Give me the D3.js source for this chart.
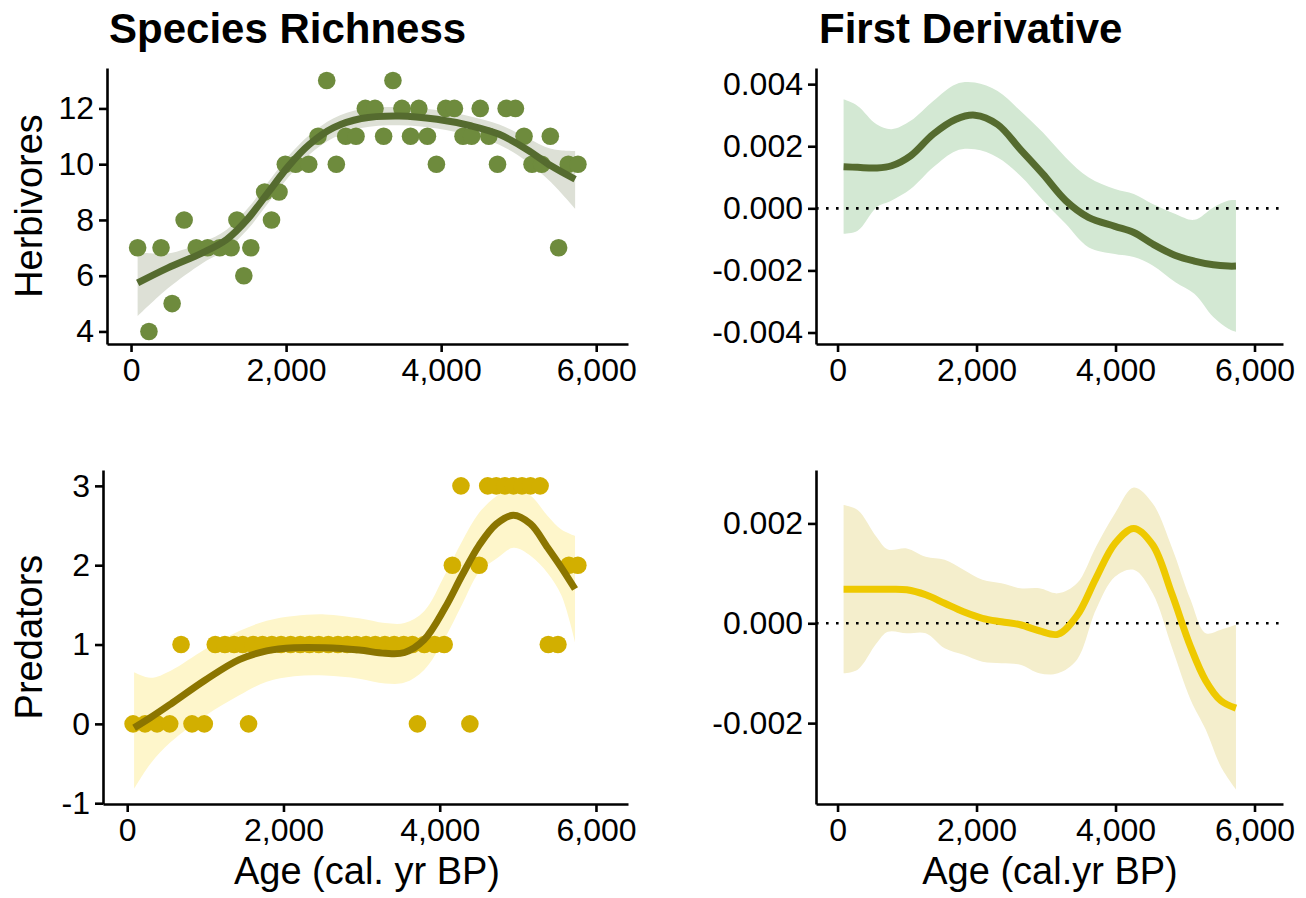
<!DOCTYPE html>
<html>
<head>
<meta charset="utf-8">
<script src="https://cdn.jsdelivr.net/npm/d3@7"></script>
<style>
  html, body { margin: 0; padding: 0; background: #fff; }
  svg { display: block; font-family: "Liberation Sans", Arial, Helvetica, sans-serif; }
</style>
</head>
<body>
<svg id="chart" width="1306" height="898"></svg>
<script>
// ---- Data -------------------------------------------------------------
// Herbivore species richness per sample (age in cal. yr BP)
const herbAge = [85,231,387,530,685,841,988,1144,1291,1366,1455,1545,1723,1812,1909,1990,2123,2292,2412,2524,2648,2769,2902,3022,3147,3258,3378,3494,3605,3712,3823,3939,4059,4171,4282,4393,4504,4615,4727,4838,4958,5069,5172,5297,5408,5515,5640,5764];
const herbRichness = [7,4,7,5,8,7,7,7,7,8,6,7,9,8,9,10,10,10,11,13,10,11,11,12,12,11,13,12,11,12,11,10,12,12,11,11,12,11,10,12,12,11,10,10,11,7,10,10];

// GAM fit for herbivores with confidence band
const herbFitAge = [85,476,921,1233,1500,1767,2034,2301,2613,2969,3458,3947,4393,4749,5105,5417,5728];
const herbFit    = [5.74,6.28,6.82,7.30,8.02,8.98,9.94,10.71,11.31,11.64,11.73,11.61,11.37,11.07,10.53,9.94,9.46];
const herbFitLo  = [4.55,5.55,6.45,6.95,7.65,8.60,9.55,10.35,10.95,11.30,11.40,11.28,11.02,10.70,10.10,9.35,8.40];
const herbFitHi  = [6.85,6.80,7.20,7.65,8.40,9.35,10.30,11.05,11.65,11.98,12.05,11.94,11.70,11.42,10.95,10.55,10.47];

// Predator species richness per sample
const predAge = [75,228,382,544,689,829,987,1127,1250,1368,1478,1553,1610,1732,1851,1969,2092,2215,2333,2452,2575,2697,2816,2934,3057,3175,3298,3417,3539,3650,3715,3803,3934,4057,4162,4272,4386,4504,4614,4724,4833,4943,5053,5162,5285,5390,5513,5653,5768];
const predRichness = [0,0,0,0,1,0,0,1,1,1,1,0,1,1,1,1,1,1,1,1,1,1,1,1,1,1,1,1,1,1,0,1,1,1,2,3,0,2,3,3,3,3,3,3,3,1,1,2,2];

// GAM fit for predators with confidence band
const predFitAge = [88,300,557,996,1434,1785,2136,2531,2969,3300,3550,3800,4066,4285,4504,4724,4943,5162,5382,5557,5732];
const predFit    = [-0.05,0.08,0.25,0.55,0.81,0.92,0.96,0.96,0.93,0.89,0.90,1.06,1.46,1.87,2.25,2.52,2.63,2.52,2.22,1.97,1.70];
const predFitLo  = [-0.82,-0.50,-0.23,0.10,0.36,0.53,0.60,0.61,0.57,0.51,0.52,0.68,1.08,1.50,1.91,2.08,2.22,2.12,1.90,1.62,1.03];
const predFitHi  = [0.65,0.58,0.67,0.94,1.17,1.30,1.36,1.38,1.33,1.27,1.27,1.42,1.88,2.30,2.66,2.87,2.98,2.88,2.62,2.45,2.37];

// First derivative of the herbivore fit
const herbDerivAge = [87,289,561,779,1051,1377,1704,1976,2303,2630,2956,3283,3610,3991,4263,4535,4862,5134,5407,5624,5733];
const herbDeriv    = [0.00134,0.00132,0.00130,0.00137,0.00169,0.00239,0.00287,0.00300,0.00270,0.00190,0.00110,0.00025,-0.00029,-0.00058,-0.00078,-0.00115,-0.00152,-0.00170,-0.00182,-0.00186,-0.00186];
const herbDerivLo  = [-0.00082,-0.00072,0.00003,0.00025,0.00062,0.00132,0.00185,0.00190,0.00164,0.00105,0.00025,-0.00050,-0.00125,-0.00147,-0.00157,-0.00184,-0.00238,-0.00275,-0.00350,-0.00388,-0.00398];
const herbDerivHi  = [0.00351,0.00330,0.00271,0.00255,0.00282,0.00346,0.00400,0.00405,0.00378,0.00314,0.00244,0.00164,0.00100,0.00062,0.00046,0.00014,-0.00018,-0.00037,0.00003,0.00025,0.00027];

// First derivative of the predator fit
const predDerivAge = [87,289,561,724,996,1269,1541,1813,2085,2358,2630,2902,3172,3445,3718,3991,4263,4535,4808,5080,5298,5515,5733];
const predDeriv    = [0.00068,0.00068,0.00068,0.00068,0.00067,0.00057,0.00040,0.00023,0.00010,0.00003,-0.00003,-0.00015,-0.00022,0.00015,0.00090,0.00160,0.00190,0.00157,0.00060,-0.00047,-0.00115,-0.00155,-0.00170];
const predDerivLo  = [-0.00100,-0.00093,-0.00040,-0.00017,-0.00020,-0.00020,-0.00050,-0.00063,-0.00077,-0.00080,-0.00083,-0.00100,-0.00100,-0.00073,0.00027,0.00093,0.00107,0.00060,-0.00047,-0.00153,-0.00213,-0.00287,-0.00333];
const predDerivHi  = [0.00237,0.00227,0.00173,0.00148,0.00150,0.00133,0.00127,0.00107,0.00087,0.00080,0.00070,0.00070,0.00060,0.00080,0.00153,0.00220,0.00272,0.00240,0.00153,0.00047,-0.00020,-0.00013,-0.00003];

// Tick values
const ageTicks = [0, 2000, 4000, 6000];
const herbTicks = [4, 6, 8, 10, 12];
const predTicks = [-1, 0, 1, 2, 3];
const herbDerivTicks = [-0.004, -0.002, 0, 0.002, 0.004];
const predDerivTicks = [-0.002, 0, 0.002];

// ---- Drawing ----------------------------------------------------------
const svg = d3.select("#chart");
svg.append("rect").attr("width", 1306).attr("height", 898).attr("fill", "#fff");

const ageDomain = [-310, 6410];
const fmtAge = d3.format(",");
const fmtDeriv = d => d3.format(".3f")(d).replace("−", "-");
const fmtInt = d => String(d).replace("−", "-");

function zip(xs, ...cols) {
  return xs.map((x, i) => ({ x, v: cols.map(c => c[i]) }));
}

function makePanel(opt) {
  const x = d3.scaleLinear().domain(ageDomain).range([opt.left, opt.right]);
  const y = d3.scaleLinear().domain(opt.yDomain).range([opt.bottom, opt.top]);
  const g = svg.append("g");

  // confidence band
  const band = zip(opt.bandAge, opt.lo, opt.hi);
  g.append("path")
    .datum(band)
    .attr("fill", opt.bandColor)
    .attr("stroke", "none")
    .attr("d", d3.area()
      .curve(d3.curveCatmullRom.alpha(0.5))
      .x(d => x(d.x)).y0(d => y(d.v[0])).y1(d => y(d.v[1])));

  // zero reference
  if (opt.zeroLine) {
    g.append("line")
      .attr("x1", opt.left).attr("x2", opt.right)
      .attr("y1", y(0)).attr("y2", y(0))
      .attr("stroke", "#000").attr("stroke-width", 2.6)
      .attr("stroke-dasharray", "2.6,7.4");
  }

  // observations
  if (opt.pointAge) {
    g.append("g").selectAll("circle")
      .data(zip(opt.pointAge, opt.pointVal))
      .join("circle")
      .attr("cx", d => x(d.x)).attr("cy", d => y(d.v[0]))
      .attr("r", 8.8)
      .attr("fill", opt.pointColor);
  }

  // fitted curve
  g.append("path")
    .datum(zip(opt.bandAge, opt.fit))
    .attr("fill", "none")
    .attr("stroke", opt.lineColor)
    .attr("stroke-width", 7)
    .attr("d", d3.line()
      .curve(d3.curveCatmullRom.alpha(0.5))
      .x(d => x(d.x)).y(d => y(d.v[0])));

  // axes
  const xAxis = g.append("g")
    .attr("transform", `translate(0,${opt.bottom})`)
    .call(d3.axisBottom(x).tickValues(ageTicks).tickFormat(fmtAge)
      .tickSize(8).tickSizeOuter(0).tickPadding(6));
  const yAxis = g.append("g")
    .attr("transform", `translate(${opt.left},0)`)
    .call(d3.axisLeft(y).tickValues(opt.yTicks).tickFormat(opt.yFmt)
      .tickSize(8).tickSizeOuter(0).tickPadding(5));
  [xAxis, yAxis].forEach(a => {
    a.select(".domain").attr("stroke", "#000").attr("stroke-width", 2.6);
    a.selectAll(".tick line").attr("stroke", "#000").attr("stroke-width", 2.6);
    a.selectAll(".tick text")
      .attr("fill", "#000")
      .style("font-size", "32px")
      .style("font-family", "'Liberation Sans', Arial, Helvetica, sans-serif");
  });
  return { x, y, g };
}

// Herbivores: richness
makePanel({
  left: 107, right: 628, top: 68, bottom: 344,
  yDomain: [3.55, 13.45], yTicks: herbTicks, yFmt: fmtInt,
  bandAge: herbFitAge, fit: herbFit, lo: herbFitLo, hi: herbFitHi,
  bandColor: "#dde0d6", lineColor: "#556B2F",
  pointAge: herbAge, pointVal: herbRichness, pointColor: "#6E8B3D"
});

// Herbivores: first derivative
makePanel({
  left: 816, right: 1283, top: 68, bottom: 344,
  yDomain: [-0.00437, 0.00452], yTicks: herbDerivTicks, yFmt: fmtDeriv,
  bandAge: herbDerivAge, fit: herbDeriv, lo: herbDerivLo, hi: herbDerivHi,
  bandColor: "#d3e8d3", lineColor: "#556B2F", zeroLine: true
});

// Predators: richness
makePanel({
  left: 103, right: 628, top: 470, bottom: 804,
  yDomain: [-1.01, 3.2], yTicks: predTicks, yFmt: fmtInt,
  bandAge: predFitAge, fit: predFit, lo: predFitLo, hi: predFitHi,
  bandColor: "#fef6cb", lineColor: "#8B7500",
  pointAge: predAge, pointVal: predRichness, pointColor: "#D2AF00"
});

// Predators: first derivative
makePanel({
  left: 816, right: 1283, top: 470, bottom: 804,
  yDomain: [-0.00362, 0.00307], yTicks: predDerivTicks, yFmt: fmtDeriv,
  bandAge: predDerivAge, fit: predDeriv, lo: predDerivLo, hi: predDerivHi,
  bandColor: "#f4eecc", lineColor: "#EEC900", zeroLine: true
});

// ---- Titles -----------------------------------------------------------
const txt = (x, y, s, size, opts = {}) => {
  const t = svg.append("text")
    .attr("x", x).attr("y", y)
    .attr("fill", "#000")
    .style("font-size", size + "px")
    .text(s);
  if (opts.bold) t.style("font-weight", "bold");
  if (opts.anchor) t.attr("text-anchor", opts.anchor);
  if (opts.rotate) t.attr("transform", `rotate(-90,${x},${y})`);
  return t;
};

txt(109, 43, "Species Richness", 42, { bold: true });
txt(819, 43, "First Derivative", 42, { bold: true });
txt(42, 206, "Herbivores", 38, { anchor: "middle", rotate: true });
txt(42, 637, "Predators", 38, { anchor: "middle", rotate: true });
txt(367, 884, "Age (cal. yr BP)", 38, { anchor: "middle" });
txt(1050, 884, "Age (cal.yr BP)", 38, { anchor: "middle" });
</script>
</body>
</html>
